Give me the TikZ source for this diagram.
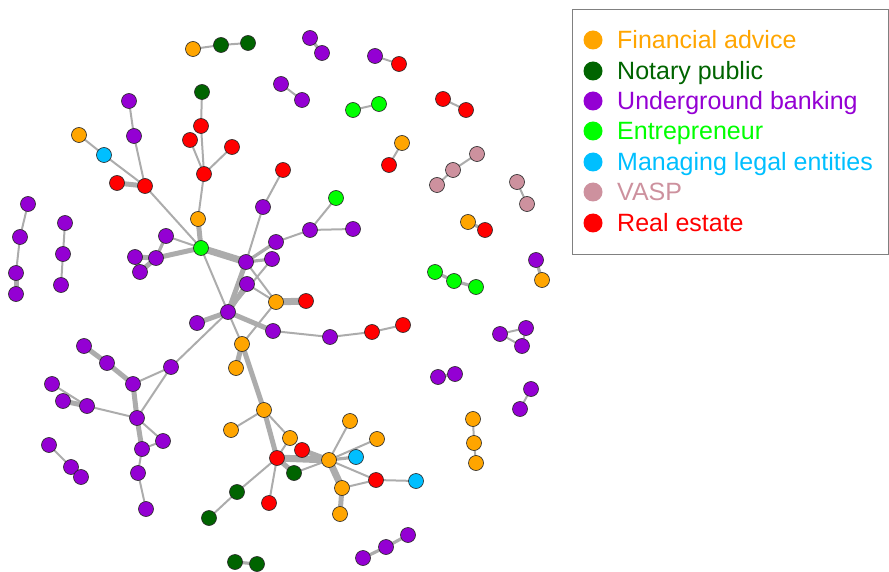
\documentclass[tikz,border=0pt]{standalone}
\usepackage{fontspec}
\setmainfont{Liberation Sans}
\pgfdeclarelayer{background}
\pgfsetlayers{background,main}
\definecolor{cfa}{RGB}{255,165,0}
\definecolor{cnp}{RGB}{0,100,0}
\definecolor{cub}{RGB}{148,0,211}
\definecolor{cen}{RGB}{0,255,0}
\definecolor{cml}{RGB}{0,191,255}
\definecolor{cva}{RGB}{205,145,158}
\definecolor{cre}{RGB}{255,0,0}
\definecolor{cedge}{RGB}{172,172,172}
\tikzset{
 nd/.style={circle,draw=black!85,line width=0.6pt,minimum size=15pt,inner sep=0pt},
 fa/.style={nd,fill=cfa}, np/.style={nd,fill=cnp}, ub/.style={nd,fill=cub},
 en/.style={nd,fill=cen}, ml/.style={nd,fill=cml}, va/.style={nd,fill=cva}, re/.style={nd,fill=cre},
 e/.style={draw=cedge,line width=2pt},
 em/.style={draw=cedge,line width=3.2pt},
 ek/.style={draw=cedge,line width=5pt},
 ekk/.style={draw=cedge,line width=7pt},
 lgdot/.style={circle,minimum size=19pt,inner sep=0pt},
 lgtxt/.style={anchor=base west,inner sep=0pt,font=\fontsize{25}{29}\selectfont}
}
\begin{document}
\begin{tikzpicture}[x=1pt,y=-1pt]
\useasboundingbox (0,0) rectangle (889,572);
% isolated components
\node[fa] (a1) at (193,49) {}; \node[np] (a2) at (221,45) {}; \node[np] (a3) at (248,43) {};
\node[ub] (b1) at (310,38) {}; \node[ub] (b2) at (322,53) {};
\node[ub] (c1) at (375,56) {}; \node[re] (c2) at (399,64) {};
\node[ub] (d1) at (281,84) {}; \node[ub] (d2) at (302,100) {};
\node[en] (e1) at (353,110) {}; \node[en] (e2) at (379,104) {};
\node[re] (f1) at (443,99) {}; \node[re] (f2) at (466,110) {};
\node[fa] (g1) at (402,143) {}; \node[re] (g2) at (389,165) {};
\node[va] (h1) at (437,185) {}; \node[va] (h2) at (453,170) {}; \node[va] (h3) at (477,154) {};
\node[va] (i1) at (517,182) {}; \node[va] (i2) at (527,204) {};
\node[fa] (j1) at (468,222) {}; \node[re] (j2) at (485,230) {};
\node[en] (k1) at (435,272) {}; \node[en] (k2) at (454,281) {}; \node[en] (k3) at (476,287) {};
\node[ub] (l1) at (536,260) {}; \node[fa] (l2) at (542,280) {};
\node[ub] (m1) at (500,334) {}; \node[ub] (m2) at (526,328) {}; \node[ub] (m3) at (522,346) {};
\node[ub] (n1) at (438,377) {}; \node[ub] (n2) at (455,374) {};
\node[ub] (o1) at (531,389) {}; \node[ub] (o2) at (520,409) {};
\node[fa] (p1) at (473,419) {}; \node[fa] (p2) at (474,443) {}; \node[fa] (p3) at (476,463) {};
\node[ub] (q1) at (363,558) {}; \node[ub] (q2) at (386,547) {}; \node[ub] (q3) at (408,535) {};
\node[np] (r1) at (235,562) {}; \node[np] (r2) at (257,564) {};
\node[ub] (s1) at (28,204) {}; \node[ub] (s2) at (20,237) {}; \node[ub] (s3) at (16,273) {}; \node[ub] (s4) at (16,294) {};
\node[ub] (u1) at (65,223) {}; \node[ub] (u2) at (63,254) {}; \node[ub] (u3) at (61,285) {};
\node[ub] (v1) at (49,445) {}; \node[ub] (v2) at (71,467) {}; \node[ub] (v3) at (81,477) {};
% main component
\node[ub] (w1) at (129,101) {}; \node[ub] (w2) at (134,136) {}; \node[re] (w3) at (145,186) {};
\node[fa] (w4) at (79,135) {}; \node[ml] (w5) at (104,155) {}; \node[re] (w6) at (117,183) {};
\node[np] (x1) at (202,92) {}; \node[re] (x2) at (201,126) {}; \node[re] (x3) at (204,174) {};
\node[re] (x4) at (190,140) {}; \node[re] (x5) at (232,147) {}; \node[fa] (x6) at (198,219) {};
\node[en] (G) at (201,248) {};
\node[ub] (y1) at (166,236) {}; \node[ub] (y2) at (156,258) {}; \node[ub] (y3) at (135,257) {}; \node[ub] (y4) at (140,272) {};
\node[ub] (H1) at (246,262) {}; \node[ub] (H2) at (228,312) {};
\node[ub] (Pa) at (263,207) {}; \node[re] (Ra) at (283,170) {};
\node[ub] (Pb) at (276,242) {}; \node[ub] (Pc) at (272,259) {};
\node[ub] (Pn) at (310,230) {}; \node[ub] (Po) at (353,229) {}; \node[en] (G2) at (336,198) {};
\node[ub] (Pd) at (247,284) {};
\node[fa] (Oe) at (276,302) {}; \node[re] (Rf) at (306,301) {};
\node[ub] (Pg) at (273,331) {}; \node[ub] (Ph) at (330,337) {}; \node[re] (Ri) at (372,332) {}; \node[re] (Rj) at (403,325) {};
\node[ub] (Pm) at (197,323) {};
\node[fa] (Ok) at (242,344) {}; \node[fa] (Ol) at (236,368) {};
\node[fa] (Op) at (264,410) {}; \node[fa] (Or) at (231,430) {}; \node[fa] (Os) at (290,438) {};
\node[re] (Rq) at (277,458) {}; \node[re] (Rt) at (302,450) {}; \node[np] (Nu) at (294,473) {};
\node[fa] (Ov) at (329,460) {}; \node[fa] (Ow) at (350,421) {}; \node[fa] (Ox) at (377,439) {};
\node[ml] (Cy) at (356,457) {}; \node[re] (Rz) at (376,480) {}; \node[ml] (Ca) at (416,481) {};
\node[fa] (Ob) at (342,488) {}; \node[fa] (Oc) at (340,514) {};
\node[np] (Nd) at (237,492) {}; \node[np] (Ne) at (209,518) {}; \node[re] (Rff) at (269,503) {};
\node[ub] (PA) at (171,367) {}; \node[ub] (PB) at (133,384) {}; \node[ub] (PC) at (107,363) {};
\node[ub] (PD) at (84,346) {}; \node[ub] (PE) at (137,418) {}; \node[ub] (PF) at (87,406) {};
\node[ub] (PG) at (52,384) {}; \node[ub] (PH) at (63,401) {}; \node[ub] (PI) at (163,441) {};
\node[ub] (PJ) at (142,449) {}; \node[ub] (PK) at (138,473) {}; \node[ub] (PL) at (146,509) {};
\begin{pgfonlayer}{background}
\draw[e] (a1.center)--(a2.center)--(a3.center);
\draw[em] (b1.center)--(b2.center);
\draw[e] (c1.center)--(c2.center);
\draw[e] (d1.center)--(d2.center);
\draw[e] (e1.center)--(e2.center);
\draw[e] (f1.center)--(f2.center);
\draw[e] (g1.center)--(g2.center);
\draw[e] (h1.center)--(h2.center)--(h3.center);
\draw[e] (i1.center)--(i2.center);
\draw[em] (j1.center)--(j2.center);
\draw[em] (k1.center)--(k2.center)--(k3.center);
\draw[em] (l1.center)--(l2.center);
\draw[e] (m1.center)--(m2.center)--(m3.center)--(m1.center);
\draw[em] (n1.center)--(n2.center);
\draw[e] (o1.center)--(o2.center);
\draw[e] (p1.center)--(p2.center)--(p3.center);
\draw[em] (q1.center)--(q2.center)--(q3.center);
\draw[em] (r1.center)--(r2.center);
\draw[e] (s1.center)--(s2.center)--(s3.center);
\draw[ek] (s3.center)--(s4.center);
\draw[e] (u1.center)--(u2.center)--(u3.center);
\draw[e] (v1.center)--(v2.center);
\draw[ekk] (v2.center)--(v3.center);
% main
\draw[e] (w1.center)--(w2.center)--(w3.center);
\draw[e] (w4.center)--(w5.center)--(w3.center);
\draw[ek] (w6.center)--(w3.center);
\draw[e] (w3.center)--(G.center);
\draw[e] (x1.center)--(x2.center)--(x3.center);
\draw[e] (x4.center)--(x3.center);
\draw[e] (x5.center)--(x3.center);
\draw[e] (x3.center)--(x6.center);
\draw[ek] (x6.center)--(G.center);
\draw[e] (G.center)--(y1.center);
\draw[ek] (G.center)--(y2.center);
\draw[em] (y1.center)--(y2.center);
\draw[ek] (y2.center)--(y3.center)--(y4.center)--(y2.center);
\draw[ekk] (G.center)--(H1.center);
\draw[e] (G.center)--(H2.center);
\draw[e] (Ra.center)--(Pa.center)--(H1.center);
\draw[e] (G2.center)--(Pn.center)--(Po.center);
\draw[e] (Pn.center)--(Pb.center);
\draw[em] (Pb.center)--(H1.center);
\draw[em] (Pc.center)--(H1.center);
\draw[e] (Pc.center)--(H2.center);
\draw[ek] (H1.center)--(H2.center);
\draw[ek] (H2.center)--(Pd.center);
\draw[e] (H1.center)--(Oe.center);
\draw[e] (Pd.center)--(Oe.center);
\draw[ekk] (Oe.center)--(Rf.center);
\draw[ek] (H2.center)--(Pg.center);
\draw[e] (Pg.center)--(Ph.center)--(Ri.center)--(Rj.center);
\draw[ek] (H2.center)--(Pm.center);
\draw[e] (H2.center)--(Ok.center);
\draw[e] (Oe.center)--(Ok.center);
\draw[ek] (Ok.center)--(Ol.center);
\draw[ek] (Ok.center)--(Op.center);
\draw[e] (Op.center)--(Or.center);
\draw[ek] (Op.center)--(Rq.center);
\draw[e] (Op.center)--(Os.center);
\draw[e] (Os.center)--(Rq.center);
\draw[ekk] (Rq.center)--(Ov.center);
\draw[ek] (Rt.center)--(Ov.center);
\draw[ek] (Rq.center)--(Nu.center);
\draw[e] (Nu.center)--(Ov.center);
\draw[e] (Rq.center)--(Nd.center)--(Ne.center);
\draw[e] (Rq.center)--(Rff.center);
\draw[e] (Ov.center)--(Ow.center);
\draw[e] (Ov.center)--(Ox.center);
\draw[em] (Ov.center)--(Cy.center);
\draw[e] (Ov.center)--(Rz.center);
\draw[ekk] (Ov.center)--(Ob.center);
\draw[ek] (Ob.center)--(Oc.center);
\draw[e] (Ob.center)--(Rz.center);
\draw[e] (Rz.center)--(Ca.center);
\draw[e] (H2.center)--(PA.center);
\draw[e] (PA.center)--(PB.center);
\draw[e] (PA.center)--(PE.center);
\draw[ek] (PB.center)--(PC.center)--(PD.center);
\draw[ek] (PB.center)--(PE.center);
\draw[e] (PE.center)--(PF.center)--(PG.center);
\draw[ek] (PF.center)--(PH.center);
\draw[e] (PE.center)--(PI.center);
\draw[ek] (PE.center)--(PJ.center);
\draw[e] (PJ.center)--(PI.center);
\draw[e] (PJ.center)--(PK.center)--(PL.center);
\end{pgfonlayer}
% legend
\node[draw=black!50,line width=0.8pt,minimum width=316.5pt,minimum height=245pt,anchor=north west,inner sep=0pt] (lg) at (571.5,9.5) {};
\node[lgdot,fill=cfa] (d1l) at (593,40) {};
\node[lgdot,fill=cnp] (d2l) at (593,71) {};
\node[lgdot,fill=cub] (d3l) at (593,101) {};
\node[lgdot,fill=cen] (d4l) at (593,131) {};
\node[lgdot,fill=cml] (d5l) at (593,162) {};
\node[lgdot,fill=cva] (d6l) at (593,192) {};
\node[lgdot,fill=cre] (d7l) at (593,223) {};
\node[lgtxt,text=cfa] (t1l) at (617,49) {Financial advice};
\node[lgtxt,text=cnp] (t2l) at (617,80) {Notary public};
\node[lgtxt,text=cub] (t3l) at (617,110) {Underground banking};
\node[lgtxt,text=cen] (t4l) at (617,140) {Entrepreneur};
\node[lgtxt,text=cml] (t5l) at (617,171) {Managing legal entities};
\node[lgtxt,text=cva] (t6l) at (617,201) {VASP};
\node[lgtxt,text=cre] (t7l) at (617,232) {Real estate};
\end{tikzpicture}
\end{document}
